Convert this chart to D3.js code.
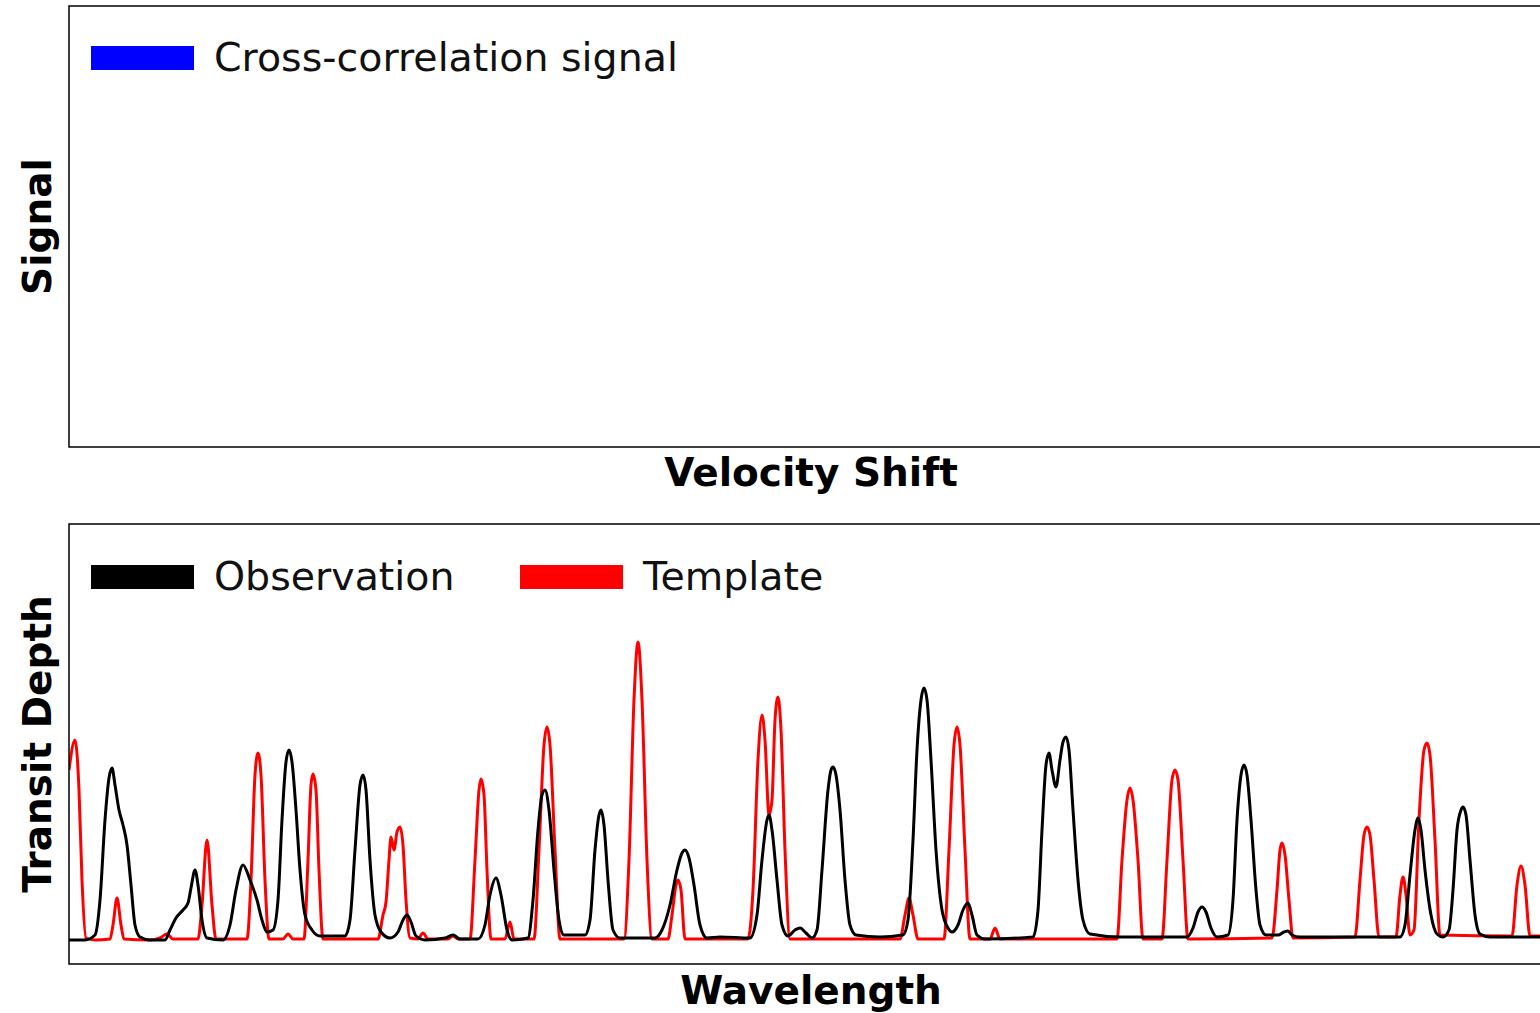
<!DOCTYPE html>
<html>
<head>
<meta charset="utf-8">
<script src="https://cdn.jsdelivr.net/npm/d3@7"></script>
<style>
  body { margin: 0; background: #fff; }
  svg { display: block; font-family: 'DejaVu Sans', sans-serif; }
</style>
</head>
<body>
<div id="graf"></div>
<script>
// template spectrum (red)
const tmplWave = [0,6,10,13,17,26,41,44,48,52,55,81,91,98,104,129,133,138,143,147,178,182,186,189,192,196,200,
  214,219,224,235,239,242,244,247,250,254,309,314,317,320,322,325,328,331,334,337,341,349,354,359,379,384,389,
  401,406,410,412,415,418,422,436,441,445,465,470,475,478,481,486,491,555,560,565,569,573,578,583,
  599,603,607,609,612,616,679,684,689,693,696,700,703,706,709,712,716,721,831,836,840,844,849,
  875,880,885,888,891,896,901,921,926,931,1048,1053,1058,1061,1064,1069,1074,1093,1098,1103,1106,1109,1114,1119,
  1203,1208,1211,1213,1216,1220,1224,1286,1291,1295,1298,1301,1305,1310,1327,1331,1334,1337,1341,1345,1350,1355,
  1358,1361,1366,1371,1443,1448,1452,1456,1461,1484]
const tmplDepth = [170,200,150,60,2,0,1,15,42,15,1,0,2,6,1,1,35,100,35,1,1,60,165,187,165,60,1,
  1,6,1,1,80,155,166,150,70,1,1,25,38,80,103,90,108,113,95,40,2,1,7,1,1,4,1,
  1,80,150,161,145,70,1,1,18,1,1,90,195,213,195,90,1,1,80,240,298,240,80,1,
  1,25,55,60,50,1,1,50,180,225,200,125,140,220,243,210,90,1,1,25,42,25,1,
  1,90,195,213,195,90,1,1,12,1,1,80,140,152,140,80,1,1,80,160,170,160,80,1,
  2,50,90,97,85,40,2,3,60,105,113,105,60,3,3,45,63,45,5,10,120,190,
  197,185,100,5,4,55,74,55,4,4]

// observed spectrum (black)
const obsWave = [0,16,26,31,36,40,43,46,50,54,58,62,66,71,81,96,101,107,114,119,122,126,129,133,138,154,161,167,174,
  181,188,193,198,204,209,213,217,220,223,227,231,236,243,251,276,281,286,291,294,297,301,306,312,321,329,334,338,
  342,347,356,376,384,391,409,416,421,427,432,438,443,459,464,469,473,476,480,485,490,495,516,521,526,530,532,535,
  539,544,551,586,593,601,608,613,616,620,625,631,638,651,681,688,693,698,700,703,708,713,719,726,731,737,743,748,
  753,759,762,764,767,771,776,781,787,811,834,839,844,848,852,855,858,862,867,873,879,883,889,894,899,903,908,916,
  964,969,973,977,980,983,987,991,994,997,1000,1004,1009,1014,1021,1051,1118,1124,1129,1133,1137,1142,1148,1159,
  1164,1168,1172,1175,1178,1182,1187,1191,1197,1209,1215,1219,1223,1231,1331,1336,1341,1346,1349,1352,1356,1362,
  1368,1374,1380,1384,1388,1392,1394,1397,1401,1406,1411,1421,1484]
const obsDepth = [0,0,5,40,120,162,172,155,130,115,95,55,15,3,0,0,10,22,30,37,52,70,55,20,2,0,15,50,75,
  60,40,20,8,10,40,120,178,190,178,130,70,25,10,4,4,20,90,155,165,150,80,25,8,2,8,20,25,
  18,4,0,2,5,1,1,15,45,62,45,10,0,2,40,110,145,150,130,70,20,5,5,20,90,125,130,115,
  60,10,2,2,10,35,70,87,90,82,55,15,2,3,2,25,80,120,125,110,60,15,4,10,12,7,2,10,
  70,150,170,173,165,130,60,15,5,3,5,20,100,190,240,252,240,180,90,30,12,8,15,30,37,25,5,1,
  3,30,110,175,187,170,153,180,198,203,190,130,60,20,6,3,3,12,28,33,28,12,3,5,
  40,120,165,175,165,120,50,15,5,5,8,9,5,3,3,15,65,110,122,110,70,25,
  6,3,10,50,110,130,133,125,80,25,6,3,3]

const obs = obsWave.map((w, i) => ({ w: w, v: obsDepth[i] }))
const tmpl = tmplWave.map((w, i) => ({ w: w, v: tmplDepth[i] }))

const legendTop = [{ label: 'Cross-correlation signal', color: '#0000ff' }]
const legendBottom = [
  { label: 'Observation', color: '#000000' },
  { label: 'Template', color: '#ff0000' },
]

const anchoTotal = 1540
const altoTotal = 1013

const svg = d3.select('#graf')
  .append('svg')
  .attr('width', anchoTotal)
  .attr('height', altoTotal)

const left = 69
const right = 1553

const top1 = { y0: 6, y1: 447 }
const top2 = { y0: 524, y1: 964 }

// ---- top panel (empty) ----
svg.append('rect')
  .attr('x', left).attr('y', top1.y0)
  .attr('width', right - left).attr('height', top1.y1 - top1.y0)
  .attr('fill', 'none').attr('stroke', '#000').attr('stroke-width', 1.5)

svg.append('text')
  .attr('x', (left + right) / 2).attr('y', 486)
  .attr('text-anchor', 'middle')
  .attr('font-size', 39).attr('font-weight', 'bold')
  .text('Velocity Shift')

svg.append('text')
  .attr('transform', `translate(51, ${(top1.y0 + top1.y1) / 2}) rotate(-90)`)
  .attr('text-anchor', 'middle')
  .attr('font-size', 39).attr('font-weight', 'bold')
  .text('Signal')

// ---- bottom panel ----
const x = d3.scaleLinear().domain([0, 1484]).range([left, right])
const y = d3.scaleLinear().domain([-24, 416]).range([top2.y1, top2.y0])

svg.append('clipPath').attr('id', 'clip')
  .append('rect')
  .attr('x', left).attr('y', top2.y0)
  .attr('width', right - left).attr('height', top2.y1 - top2.y0)

const line = d3.line()
  .x(d => x(d.w))
  .y(d => y(d.v))
  .curve(d3.curveMonotoneX)

const g = svg.append('g').attr('clip-path', 'url(#clip)')

g.append('path')
  .datum(tmpl)
  .attr('d', line)
  .attr('fill', 'none')
  .attr('stroke', '#ff0000')
  .attr('stroke-width', 3)
  .attr('stroke-linejoin', 'round')

g.append('path')
  .datum(obs)
  .attr('d', line)
  .attr('fill', 'none')
  .attr('stroke', '#000')
  .attr('stroke-width', 3)
  .attr('stroke-linejoin', 'round')

svg.append('rect')
  .attr('x', left).attr('y', top2.y0)
  .attr('width', right - left).attr('height', top2.y1 - top2.y0)
  .attr('fill', 'none').attr('stroke', '#000').attr('stroke-width', 1.5)

svg.append('text')
  .attr('x', (left + right) / 2).attr('y', 1004)
  .attr('text-anchor', 'middle')
  .attr('font-size', 39).attr('font-weight', 'bold')
  .text('Wavelength')

svg.append('text')
  .attr('transform', `translate(51, ${(top2.y0 + top2.y1) / 2}) rotate(-90)`)
  .attr('text-anchor', 'middle')
  .attr('font-size', 39).attr('font-weight', 'bold')
  .text('Transit Depth')

// ---- legends ----
function legend(items, y0, xs) {
  const lg = svg.append('g')
  items.forEach((d, i) => {
    lg.append('rect')
      .attr('x', xs[i]).attr('y', y0 - 12)
      .attr('width', 103).attr('height', 24)
      .attr('fill', d.color)
    lg.append('text')
      .attr('x', xs[i] + 123).attr('y', y0 + 13)
      .attr('font-size', 39.5)
      .attr('fill', '#111')
      .text(d.label)
  })
}
legend(legendTop, 58, [91])
legend(legendBottom, 577, [91, 520])
</script>
</body>
</html>
